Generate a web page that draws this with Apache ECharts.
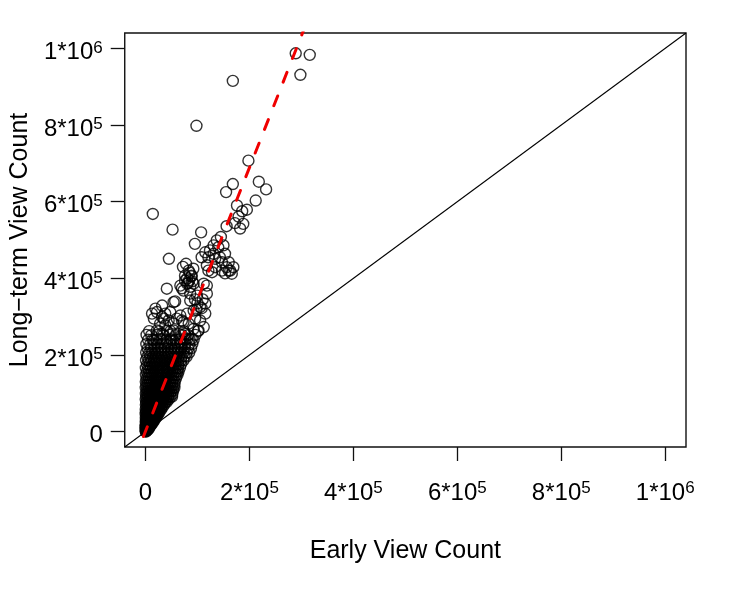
<!DOCTYPE html>
<html>
<head>
<meta charset="utf-8">
<title>Early vs long-term view count</title>
<script src="https://cdn.jsdelivr.net/npm/echarts@6/dist/echarts.min.js"></script>
<style>
  html, body { margin: 0; padding: 0; background: #fff; }
  #main { width: 750px; height: 600px; }
</style>
</head>
<body>
<div id="main"></div>
<script>
// every view count below is in thousands: [early, long-term]
const upperPoints = [
    [289, 987], [316, 983], [298, 931], [168, 915], [98, 798], [198, 707],
    [218, 652], [232, 632], [168, 646], [155, 625], [212, 603], [176, 590],
    [195, 579], [186, 575], [179, 561], [156, 536], [172, 544], [188, 542],
    [182, 530], [14, 568], [52, 527], [107, 520], [145, 508], [95, 490]
];

// the band round 4*10^5
const bandPoints = [
    [137, 499], [131, 486], [140, 481], [150, 486], [124, 473], [115, 468],
    [108, 455], [121, 455], [134, 451], [143, 455], [153, 464], [147, 442],
    [160, 442], [169, 429], [160, 420], [147, 420], [166, 412], [134, 429],
    [128, 416], [118, 434], [83, 420], [76, 407], [89, 407], [156, 429],
    [163, 420], [153, 413], [121, 420], [131, 464], [45, 451], [72, 430],
    [78, 438], [92, 425], [80, 400]
];

const midPoints = [
    [41, 373], [54, 338], [32, 329], [22, 312], [12.5, 308], [38, 308],
    [47.6, 312], [32, 299], [44.5, 290], [60, 295], [67, 303], [28, 282],
    [38, 277], [54, 282], [73, 286], [22, 264], [32, 255], [41, 264],
    [54, 264], [64, 255], [16, 238], [28, 242], [41, 234], [54, 238],
    [67, 234], [80, 242], [67, 381], [80, 386], [92.5, 386], [73, 368],
    [86, 360], [99, 355], [112, 386], [118, 360], [115, 334], [105, 325],
    [115, 308], [105, 290], [112, 273], [102, 264], [86, 342], [92.5, 316],
    [80, 308], [95.6, 295], [83, 282], [92.5, 268], [89, 242], [76, 255],
    [57, 340], [19, 321], [35, 295], [16, 295], [70, 290], [100, 335],
    [108, 322], [110, 345], [98, 318], [95, 345], [85, 415], [88, 405],
    [84, 395], [90, 392], [86, 378], [82, 388], [76, 394], [70, 374], [118, 381]
];

// the dense wedge near the origin
const corePoints = [
    [0.3, 1], [0.8, 0.4],
    [0.5, 3.2], [1.8, 2.6], [2.8, 3.4],
    [0.2, 6.3], [1.5, 5.6], [3.2, 6.1], [4.8, 5.4],
    [0.6, 9.4], [2.5, 8.6], [4.4, 9.2], [6.5, 8.8],
    [0.1, 12.5], [1.8, 11.6], [3.9, 12.2], [6, 11.8], [8, 12.4],
    [0.8, 15.3], [3, 14.6], [5.2, 15.4], [7.4, 14.8], [9.5, 15.6],
    [0.4, 18.6], [2.2, 19.4], [4.6, 18.8], [7, 19.5], [9.3, 18.7], [11.5, 19.2],
    [1, 23.4], [3.4, 22.6], [5.9, 23.3], [8.5, 22.8], [11, 23.5], [13.5, 22.7],
    [0.3, 26.6], [2.6, 27.4], [5.3, 26.8], [8, 27.5], [10.6, 26.7], [13.2, 27.3], [15.5, 26.9],
    [1.2, 31.4], [3.9, 30.7], [6.7, 31.2], [9.6, 30.6], [12.4, 31.5], [15, 30.8], [17.5, 31.3],
    [0.5, 35.6], [3, 36.4], [5.8, 35.8], [8.7, 36.5], [11.6, 35.7], [14.5, 36.3], [17.3, 35.9], [20, 36.4],
    [1.5, 41.3], [4.3, 40.6], [7.4, 41.5], [10.5, 40.8], [13.5, 41.2], [16.6, 40.5], [19.6, 41.4], [22.3, 40.9],
    [0.2, 46.4], [3, 45.7], [6.2, 46.2], [9.4, 45.5], [12.6, 46.5], [15.8, 45.8], [19, 46.3], [22, 45.6], [24.8, 46.2],
    [1, 51.6], [4, 52.4], [7.3, 51.8], [10.6, 52.5], [14, 51.7], [17.2, 52.3], [20.5, 51.5], [23.8, 52.2], [27, 51.9],
    [0.4, 58.3], [3.4, 57.6], [6.6, 58.4], [10, 57.8], [13.4, 58.5], [16.8, 57.5], [20.2, 58.2], [23.6, 57.7], [27, 58.4], [30, 57.9],
    [1.8, 63.6], [5, 64.5], [8.5, 63.8], [12, 64.3], [15.5, 63.5], [19, 64.4], [22.6, 63.7], [26, 64.6], [29.5, 63.9], [33, 64.2],
    [0.6, 70.4], [3.8, 69.6], [7, 70.3], [10.5, 69.5], [14, 70.5], [17.6, 69.8], [21.2, 70.2], [24.8, 69.7], [28.4, 70.6], [32, 69.9], [36, 70.3],
    [1.3, 76.5], [4.5, 77.4], [8, 76.8], [11.5, 77.5], [15, 76.6], [18.8, 77.3], [22.6, 76.7], [26.4, 77.6], [30.2, 76.9], [34, 77.2], [38, 76.8], [41, 77.5],
    [0.3, 84.4], [3.2, 83.6], [6.5, 84.2], [10, 83.5], [13.5, 84.5], [17.2, 83.8], [21, 84.3], [24.8, 83.7], [28.6, 84.6], [32.5, 83.9], [36.5, 84.1], [40.5, 83.6], [44.5, 84.4],
    [1.5, 90.6], [5, 91.4], [8.5, 90.8], [12, 91.5], [16, 90.7], [20, 91.3], [24, 90.5], [28, 91.6], [32, 90.9], [36, 91.2], [40, 90.6], [44, 91.4], [48, 90.8], [51, 91.3],
    [0.7, 98.4], [4, 97.6], [7.5, 98.3], [11.5, 97.5], [15.2, 98.5], [19, 97.8], [23, 98.2], [27, 97.6], [31, 98.6], [35, 97.9], [39, 98.1], [43, 97.7], [47, 98.4], [51.5, 97.8],
    [2, 105.6], [5.5, 106.4], [9, 105.8], [13, 106.5], [17, 105.7], [21, 106.2], [25, 105.5], [29, 106.6], [33, 105.9], [37, 106.3], [41, 105.6], [45, 106.4], [49, 105.8], [53, 106.2],
    [0.4, 114.3], [3.6, 113.6], [7, 114.5], [11, 113.8], [15, 114.2], [19, 113.5], [23, 114.6], [27, 113.7], [31, 114.4], [35, 113.9], [39.5, 114.1], [44, 113.6], [48.5, 114.5], [52.5, 113.8], [55.5, 114.3],
    [1.6, 121.5], [5.5, 122.4], [9.5, 121.8], [13.5, 122.6], [17.5, 121.7], [21.5, 122.3], [25.5, 121.6], [29.5, 122.5], [33.5, 121.9], [38, 122.2], [42.5, 121.5], [47, 122.4], [51.5, 121.8], [55.5, 122.3],
    [0.5, 130.4], [4, 129.6], [8, 130.3], [12, 129.5], [16, 130.6], [20, 129.8], [24.5, 130.2], [29, 129.7], [33.5, 130.5], [38, 129.9], [42.5, 130.3], [47, 129.6], [51.5, 130.4], [56, 129.8],
    [2, 138.6], [6, 139.4], [10, 138.8], [14, 139.5], [18, 138.7], [22.5, 139.3], [27, 138.5], [31.5, 139.6], [36, 138.9], [40.5, 139.2], [45, 138.6], [49.5, 139.4], [54, 138.8], [58.5, 139.3],
    [0.8, 148.4], [5, 147.6], [9, 148.3], [13, 147.5], [17.5, 148.5], [22, 147.8], [26.5, 148.2], [31, 147.7], [35.5, 148.6], [40, 147.9], [44.5, 148.1], [49, 147.6], [53.5, 148.4], [58, 147.8], [61.5, 148.3],
    [2.5, 156.6], [7, 157.4], [11.5, 156.8], [16, 157.5], [20.5, 156.7], [25, 157.3], [29.5, 156.5], [34, 157.6], [38.5, 156.9], [43, 157.2], [47.5, 156.6], [52, 157.4], [56.5, 156.8], [60.5, 157.3], [63.5, 156.7],
    [0.6, 166.4], [5.2, 165.6], [9.8, 166.3], [14.5, 165.5], [19.2, 166.5], [24, 165.8], [28.8, 166.2], [33.6, 165.7], [38.4, 166.6], [43.2, 165.9], [48, 166.1], [52.8, 165.6], [57.6, 166.4], [62.4, 165.8], [66, 166.3],
    [3, 175.6], [8, 176.4], [13, 175.8], [18, 176.5], [23, 175.7], [28, 176.3], [33, 175.5], [38, 176.6], [43, 175.9], [48, 176.2], [53, 175.6], [58, 176.4], [63, 175.8], [68.5, 176.3],
    [1, 186.4], [6, 185.6], [11.2, 186.3], [16.4, 185.5], [21.6, 186.5], [26.8, 185.8], [32, 186.2], [37.2, 185.7], [42.4, 186.6], [47.6, 185.9], [52.8, 186.1], [58, 185.6], [63.2, 186.4], [68.4, 185.8], [73, 186.3],
    [3.5, 195.6], [9, 196.4], [14.5, 195.8], [20, 196.5], [25.5, 195.7], [31, 196.3], [36.5, 195.5], [42, 196.6], [47.5, 195.9], [53, 196.2], [58.5, 195.6], [64, 196.4], [69.5, 195.8], [75, 196.3], [79, 195.7],
    [1.2, 206.4], [7, 205.6], [13, 206.3], [19, 205.5], [25, 206.5], [31, 205.8], [37, 206.2], [43, 205.7], [49, 206.6], [55, 205.9], [61, 206.1], [67, 205.6], [73, 206.4], [79, 205.8], [84, 206.3],
    [4, 216.6], [10.5, 217.4], [17, 216.8], [23.5, 217.5], [30, 216.7], [36.5, 217.3], [43, 216.5], [49.5, 217.6], [56, 216.9], [62.5, 217.2], [69, 216.6], [75.5, 217.4], [82, 216.8], [87.5, 217.3],
    [1.5, 228.4], [9, 227.6], [16.5, 228.3], [24, 227.5], [31.5, 228.5], [39, 227.8], [46.5, 228.2], [54, 227.7], [61.5, 228.6], [69, 227.9], [76.5, 228.1], [84, 227.6], [90, 228.4],
    [5, 239.6], [13.5, 240.4], [22, 239.8], [31, 240.5], [40, 239.7], [49, 240.3], [58, 239.5], [67, 240.6], [76, 239.9], [85, 240.2], [92.5, 239.6],
    [2, 252.4], [11, 251.6], [22, 252.3], [34, 251.5], [46, 252.5], [58, 251.8], [70, 252.2], [82, 251.7], [96, 252.4],
    [7, 262.3], [26, 261.6], [48, 262.4], [74, 261.8], [101, 262.2]
];

const tickValues = [0, 200000, 400000, 600000, 800000, 1000000];
const tickBase = ['0', '2*10', '4*10', '6*10', '8*10', '1*10'];
const tickPower = ['', '5', '5', '5', '5', '6'];
const axisMin = -40000, axisMax = 1040000;

// fitted line (red, dashed)
const fitSlope = 3.44, fitIntercept = 1000;
const fitFrom = -4000, fitTo = 310000;

const font = "'Liberation Sans', Arial, Helvetica, sans-serif";

function toViews(pts) {
    return pts.map(function (p) { return [p[0] * 1000, p[1] * 1000]; });
}

const allPoints = toViews(corePoints.concat(midPoints, bandPoints, upperPoints));

function tickLabel(value) {
    const i = tickValues.indexOf(value);
    if (i < 0) return '';
    if (!tickPower[i]) return '{a|' + tickBase[i] + '}';
    return '{a|' + tickBase[i] + '}{s|' + tickPower[i] + '}';
}

const labelRich = {
    a: {fontSize: 24, lineHeight: 26, color: '#000', fontFamily: font},
    s: {fontSize: 17, lineHeight: 14, verticalAlign: 'top', color: '#000', fontFamily: font}
};

const myChart = echarts.init(document.getElementById('main'));
myChart.setOption({
    animation: false,
    backgroundColor: '#fff',
    textStyle: {fontFamily: font},
    grid: {
        left: 123, right: 64, top: 33, bottom: 153,
        show: true,
        borderColor: '#111',
        borderWidth: 1.4,
        backgroundColor: 'transparent'
    },
    xAxis: {
        type: 'value',
        min: axisMin,
        max: axisMax,
        splitLine: {show: false},
        axisLine: {show: false, onZero: false},
        axisTick: {show: true, inside: false, length: 14, lineStyle: {color: '#111', width: 1.3}, customValues: tickValues},
        axisLabel: {customValues: tickValues, margin: 33, formatter: tickLabel, rich: labelRich},
        name: 'Early View Count',
        nameLocation: 'middle',
        nameGap: 92,
        nameTextStyle: {fontSize: 25, color: '#000', fontFamily: font}
    },
    yAxis: {
        type: 'value',
        min: axisMin,
        max: axisMax,
        splitLine: {show: false},
        axisLine: {show: false, onZero: false},
        axisTick: {show: true, inside: false, length: 14, lineStyle: {color: '#111', width: 1.3}, customValues: tickValues},
        axisLabel: {customValues: tickValues, margin: 22, formatter: tickLabel, rich: labelRich, padding: [8, 0, 0, 0]},
        name: 'Long\u2212term View Count',
        nameLocation: 'middle',
        nameGap: 89,
        nameTextStyle: {fontSize: 25, color: '#000', fontFamily: font}
    },
    series: [
        {
            type: 'scatter',
            data: allPoints,
            symbol: 'circle',
            symbolSize: 11,
            itemStyle: {color: 'rgba(0,0,0,0)', borderColor: '#000', borderWidth: 1.4},
            silent: true
        },
        {
            type: 'line',
            data: [[axisMin, axisMin], [axisMax, axisMax]],
            showSymbol: false,
            lineStyle: {color: '#000', width: 1.1},
            silent: true
        },
        {
            type: 'line',
            data: [[fitFrom, fitSlope * fitFrom + fitIntercept], [fitTo, fitSlope * fitTo + fitIntercept]],
            showSymbol: false,
            clip: true,
            lineStyle: {color: '#f00000', width: 3, type: [10.5, 14.9], cap: 'round'},
            silent: true
        }
    ]
});
</script>
</body>
</html>
